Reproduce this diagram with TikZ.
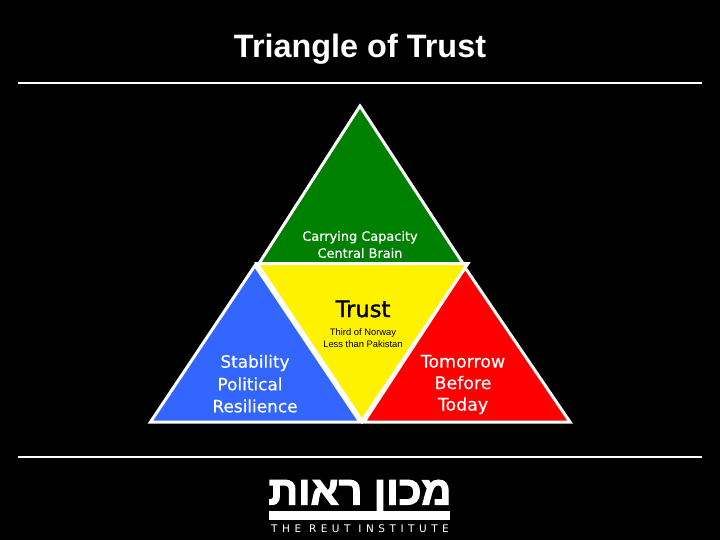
\documentclass[tikz,border=0pt]{standalone}
\usepackage{fontspec}
\setmainfont{Liberation Sans}
\newfontfamily\versefont[FakeBold=0.4]{DejaVu Sans}
\newfontfamily\trustfont[FakeBold=1.5]{DejaVu Sans}
\newfontfamily\reutfont[LetterSpace=43]{DejaVu Sans}
\newfontfamily\hebfont[Script=Hebrew,FakeBold=3]{Liberation Sans}
\TeXXeTstate=1
\definecolor{greenface}{RGB}{0,128,0}
\definecolor{blueface}{RGB}{51,102,255}
\tikzset{
  face/.style={draw=white,line width=3pt,line join=miter},
  rule/.style={draw=white,line width=1.2pt},
  label/.style={align=center,inner sep=0pt,font=\versefont},
  sidetext/.style={label,white,font=\versefont\fontsize{16.9}{21.5}\selectfont},
}
\begin{document}
\begin{tikzpicture}[x=1pt,y=-1pt]
    \useasboundingbox[fill=black] (0,0) rectangle (720,540);
    % rules
    \coordinate (r1) at (18,83);
    \coordinate (r2) at (702,83);
    \coordinate (r3) at (18,457);
    \coordinate (r4) at (702,457);
    \draw[rule] (r1) -- (r2);
    \draw[rule] (r3) -- (r4);
    % triangles
    \draw[face,fill=greenface] (360,106) -- (259,263.5) -- (463,263.5) -- cycle;
    \draw[face,fill=blueface] (255,265.5) -- (150.5,422) -- (360,422) -- cycle;
    \draw[face,fill=red] (465,267.5) -- (364,422) -- (570,422) -- cycle;
    \draw[face,fill=yellow] (257,263.5) -- (468,263.5) -- (362,420.7) -- cycle;
    % labels
    \node (title) at (360,49) {\fontsize{32.4}{36}\selectfont\bfseries\color{white}Triangle of Trust};
    \node[label,white,font=\versefont\fontsize{12.9}{17}\selectfont] (carry) at (360,244.5) {Carrying Capacity\\Central Brain};
    \node[label,black,font=\trustfont\fontsize{22.6}{26}\selectfont] (trust) at (363,309) {Trust};
    \node[label,black,font=\fontsize{9.4}{11.5}\selectfont] (third) at (363,338) {Third of Norway\\Less than Pakistan};
    \node[sidetext] (stab) at (255,363) {Stability};
    \node[sidetext] (polit) at (250,384) {Political};
    \node[sidetext] (resil) at (255,406) {Resilience};
    \node[sidetext,font=\versefont\fontsize{17.4}{21.5}\selectfont] (tomor) at (463,384.5) {Tomorrow\\Before\\Today};
    % logo
    \node[inner sep=0pt,white,xscale=1.03,font=\hebfont\bfseries\fontsize{40}{40}\selectfont] (logo) at (360,496) {\beginR מכון ראות\endR};
    \fill[white] (269,511) rectangle (450,520);
    \node[inner sep=0pt,white,font=\reutfont\fontsize{10.5}{12}\selectfont] (reut) at (360,529) {THE REUT INSTITUTE};
\end{tikzpicture}
\end{document}
